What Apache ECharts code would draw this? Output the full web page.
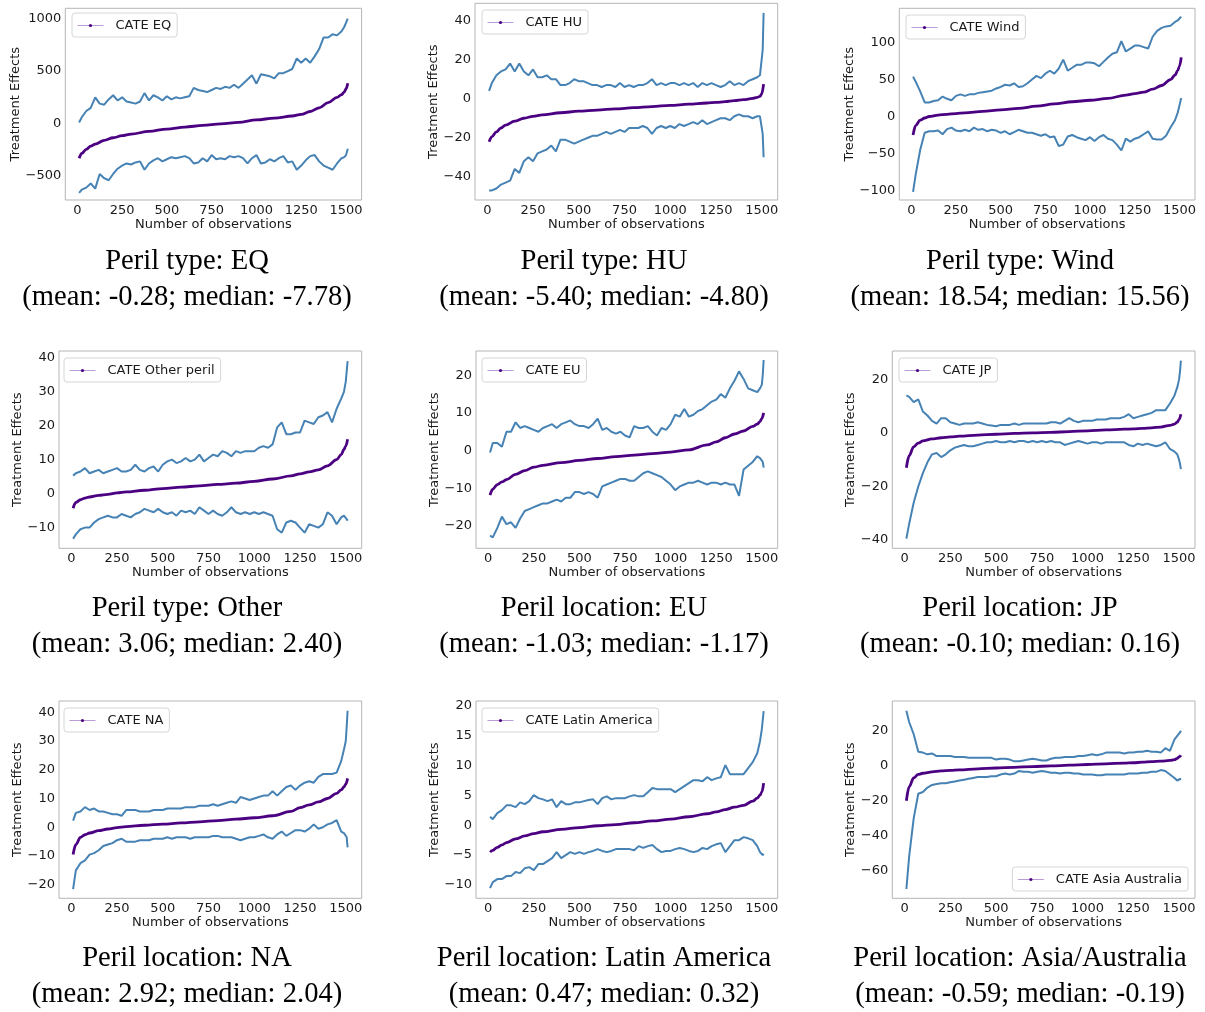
<!DOCTYPE html>
<html><head><meta charset="utf-8">
<script src="https://cdn.jsdelivr.net/npm/echarts@6/dist/echarts.min.js"></script>
<style>html,body{margin:0;padding:0;background:#fff}#chart{width:1205px;height:1012px}</style>
</head><body><div id="chart"></div>
<script>
// ---------- DATA ----------
const xBand = [10, 25, 50, 75, 100, 125, 150, 175, 200, 225,
  250, 275, 300, 325, 350, 375, 400, 425, 450, 475,
  500, 525, 550, 575, 600, 625, 650, 675, 700, 725,
  750, 775, 800, 825, 850, 875, 900, 925, 950, 975,
  1000, 1025, 1050, 1075, 1100, 1125, 1150, 1175, 1200, 1225,
  1250, 1275, 1300, 1325, 1350, 1375, 1400, 1425, 1450, 1475,
  1490, 1500, 1505, 1510];
const xCate = [10, 25, 50, 75, 100, 150, 200, 250, 300, 400, 500, 600, 700, 800, 900, 1000, 1100, 1200, 1250, 1300, 1350, 1400, 1450, 1475, 1490, 1500, 1510];
const xTicks = [0, 250, 500, 750, 1000, 1250, 1500];

const eqUpper = [10, 60, 120, 150, 250, 190, 180, 230, 270, 220,
  250, 210, 200, 190, 210, 290, 220, 270, 250, 220,
  260, 230, 250, 240, 250, 260, 340, 320, 310, 300,
  320, 340, 330, 350, 340, 370, 340, 380, 420, 460,
  380, 470, 460, 450, 430, 480, 480, 500, 520, 620,
  580, 620, 580, 640, 710, 820, 820, 850, 840, 880,
  920, 960, 980, 1000];
const eqLower = [-660, -630, -610, -570, -620, -480, -520, -540, -480, -430,
  -400, -380, -390, -370, -360, -440, -380, -350, -330, -360,
  -340, -320, -330, -320, -310, -330, -380, -370, -330, -360,
  -300, -340, -330, -340, -310, -320, -310, -330, -380, -330,
  -300, -380, -370, -340, -360, -330, -310, -370, -360, -440,
  -400, -350, -310, -300, -360, -400, -420, -440, -380, -330,
  -320, -300, -270, -240];
const eqCate = [-330, -285, -245, -215, -195, -160, -135, -115, -100, -75, -52, -33, -18, -3, 12, 35, 52, 72, 88, 115, 150, 200, 250, 275, 300, 330, 385];

const huUpper = [4, 8, 12, 14, 15, 18, 14, 18, 14, 12,
  15, 11, 11, 12, 10, 10, 7, 7, 8, 10,
  9, 9, 8, 7, 7, 6, 7, 7, 6, 8,
  6, 7, 6, 7, 7, 8, 10, 7, 8, 7,
  8, 8, 7, 8, 7, 8, 6, 8, 7, 8,
  7, 6, 7, 9, 7, 8, 7, 9, 10, 11,
  12, 13, 25, 44];
const huLower = [-47, -47, -46, -44, -43, -42, -36, -38, -32, -30,
  -32, -28, -27, -26, -24, -27, -21, -21, -22, -23,
  -22, -21, -20, -19, -19, -18, -17, -18, -17, -16,
  -17, -15, -15, -15, -14, -15, -18, -15, -14, -15,
  -14, -15, -13, -14, -13, -12, -13, -11, -13, -12,
  -11, -10, -10, -11, -9, -8, -9, -9, -10, -9,
  -9, -8, -18, -30];
const huCate = [-22, -19.5, -17, -15, -13.5, -11.5, -10, -9, -8.3, -7.2, -6.4, -5.8, -5.2, -4.6, -4.0, -3.4, -2.8, -2.2, -1.9, -1.5, -1.0, -0.5, 0.2, 0.7, 1.2, 2.5, 7.5];

const windUpper = [54, 47, 34, 19, 19, 21, 22, 27, 24, 22,
  28, 30, 28, 30, 30, 32, 33, 34, 35, 38,
  40, 43, 42, 45, 40, 41, 45, 50, 55, 52,
  58, 62, 58, 65, 77, 62, 66, 70, 70, 73,
  73, 72, 68, 74, 80, 85, 87, 102, 88, 92,
  96, 96, 94, 92, 108, 116, 120, 122, 123, 128,
  130, 132, 134, 135];
const windLower = [-102, -78, -45, -22, -20, -20, -19, -24, -17, -15,
  -19, -20, -18, -20, -15, -18, -17, -20, -18, -19,
  -22, -20, -24, -21, -18, -20, -22, -22, -24, -26,
  -24, -28, -27, -40, -38, -27, -25, -28, -30, -32,
  -28, -33, -28, -25, -30, -32, -38, -46, -30, -34,
  -30, -28, -24, -20, -30, -31, -31, -26, -15, -5,
  5, 15, 20, 25];
const windCate = [-25, -12, -5, -2, 0, 2, 3, 4, 5, 7, 9, 11, 14, 17, 20, 22, 24.5, 29, 31, 33, 37, 42, 50, 56, 62, 68, 80];

const otherUpper = [5.3, 6, 6.5, 7.5, 6, 6.5, 7, 6, 6.5, 7,
  7.5, 6.5, 6.5, 7, 8.5, 7, 6.5, 7.5, 8, 6.5,
  8.5, 9.5, 10, 9, 9.5, 10.5, 9.5, 10, 11.5, 9.5,
  10.5, 11.5, 11, 12.5, 12, 11, 12.5, 12, 12.5, 12.5,
  12.5, 13.5, 14, 13.5, 14.5, 19.5, 21, 17.5, 17.5, 18,
  18, 21.5, 21, 20.5, 22.5, 23, 24, 21, 25, 28,
  30, 33, 36, 39];
const otherLower = [-13.3, -12, -10.5, -10, -10, -8.5, -7.5, -7, -6.5, -7,
  -7, -6, -6.5, -7, -6, -5.5, -4.5, -5, -5.5, -4.5,
  -5.5, -6, -5.5, -6.5, -5, -5.5, -5, -6, -4, -5,
  -6, -5, -6, -6.5, -5.5, -4, -5.5, -6, -5.5, -6,
  -5.5, -6, -5.5, -6, -6.5, -10.5, -11.5, -8.5, -8, -8.5,
  -10, -11.5, -9, -9.5, -10, -9, -5.5, -6.5, -9, -7,
  -6.5, -7, -7.5, -8];
const otherCate = [-4.3, -2.6, -1.8, -1.3, -1.0, -0.5, -0.2, 0.2, 0.5, 1.0, 1.5, 1.9, 2.3, 2.7, 3.1, 3.6, 4.3, 5.2, 5.8, 6.4, 7.0, 8.2, 10, 11.5, 13, 14, 16];

const euUpper = [-0.5, 2, 2, 1, 5, 5, 7.5, 6, 6.5, 6,
  5.5, 5, 6, 6.5, 7, 6, 7, 7.5, 8, 7,
  6.5, 6.5, 6, 7, 8.5, 5.5, 6, 5, 4.5, 5,
  4, 3.5, 6.5, 6, 6, 6.5, 5, 4, 6, 5.5,
  7, 9.5, 9, 11, 9, 9.5, 10.5, 11, 12, 13,
  13.5, 15, 14, 16.5, 18.5, 21, 19, 16.5, 16, 15.5,
  16.5, 17.5, 20, 24];
const euLower = [-22.5, -23, -20.5, -17.5, -19.5, -19, -20.5, -18, -16, -15.5,
  -15, -14.5, -14, -14, -13.5, -13, -13.5, -12.5, -12.5, -11,
  -11, -11.5, -11, -11.5, -12.5, -9.5, -9, -8.5, -8, -7.5,
  -7.5, -8, -8, -7, -6, -5.5, -6, -6.5, -7, -8,
  -9, -10.5, -9.5, -9, -8.5, -8.5, -8, -8.5, -9, -8.5,
  -8.5, -9, -8.5, -9, -9, -12, -5, -4, -3, -1.5,
  -2, -2.5, -3, -4.5];
const euCate = [-11.8, -10.2, -9, -8.3, -7.7, -6.3, -5.3, -4.4, -3.9, -3.2, -2.6, -2.1, -1.6, -1.2, -0.8, -0.4, 0.2, 1.5, 2.3, 3.4, 4.4, 5.2, 6.4, 7, 7.7, 8.5, 10];

const jpUpper = [14, 13.5, 11.5, 12.5, 8, 6.5, 4.5, 3.5, 5.5, 5.5,
  4, 3.5, 3, 3.5, 3.5, 3.5, 4, 3.5, 3, 2.8,
  2.5, 3, 3, 3, 3.5, 3, 3.5, 3.5, 3.5, 3.5,
  3.5, 3.5, 4, 4, 3.5, 4.5, 5.5, 4.5, 4, 4.5,
  4.5, 4.5, 5, 5, 5, 5.5, 5.5, 5.5, 6, 7,
  5.5, 6, 6.5, 7, 7.5, 8.5, 8.5, 8.5, 11, 14,
  17, 20, 23, 27];
const jpLower = [-39.5, -34, -26, -20, -15, -11, -8, -7.5, -9, -8,
  -6.5, -5.5, -5, -4.5, -5, -5, -4.5, -4, -3.5, -3.5,
  -3, -3.5, -3.5, -3, -3.5, -3, -3, -3.5, -3, -3.5,
  -3, -3.5, -3, -3.5, -3.5, -4.5, -4, -3.5, -3, -3.5,
  -4, -3.5, -3.5, -4, -3.5, -3.5, -3.5, -3.5, -3.5, -4.5,
  -5, -4, -4.5, -4, -4.5, -5, -4.5, -3.5, -6, -7,
  -8, -10, -11.5, -13.5];
const jpCate = [-13, -8.5, -5.2, -3.8, -3, -2.2, -1.8, -1.5, -1.2, -0.8, -0.5, -0.2, 0, 0.2, 0.5, 0.8, 1.1, 1.4, 1.5, 1.7, 1.9, 2.2, 2.8, 3.3, 4, 5, 7];

const naUpper = [2.3, 5, 5.5, 7, 6, 6.5, 5.5, 5.5, 5, 4.5,
  4.5, 4, 6, 6, 6, 5.5, 5.5, 5.5, 6, 6,
  6, 6.5, 6.5, 6.5, 6.5, 7, 7, 7, 7.5, 7.5,
  7.5, 8, 7.5, 8, 8.5, 9, 8.5, 10.5, 10, 9.5,
  10, 10.5, 11, 11, 12.5, 11, 12.5, 14, 14.5, 13,
  14.5, 15.5, 16, 15.5, 17.5, 18.5, 18.5, 18.5, 19, 23,
  27, 30, 35, 40.5];
const naLower = [-21.5, -15, -12.5, -11.5, -9.5, -9, -8, -6.5, -6, -5.5,
  -4.5, -4, -5, -5, -5, -4.5, -4.5, -4.5, -4, -4,
  -4, -3.5, -4, -3.5, -3.5, -3.5, -4, -3.5, -3.5, -3.5,
  -3.5, -3, -3, -3.5, -3.5, -3.5, -4, -4.5, -4, -3.5,
  -3.5, -3, -2.5, -3.5, -4, -2.5, -1.5, -3, -2, -1,
  -1, -1.5, -0.5, 1, -0.5, 0, 1, 1.5, 2.5, -1.5,
  -2, -2.5, -3.5, -7];
const naCate = [-9.5, -6, -3.5, -2.6, -2, -1.2, -0.6, -0.1, 0.2, 0.7, 1.1, 1.5, 1.9, 2.3, 2.8, 3.3, 4.0, 5.5, 6.8, 7.8, 8.8, 10, 11.8, 13, 14, 15, 17];

const laUpper = [1.4, 1, 2, 2.5, 3.3, 3.3, 3, 3.8, 3.5, 4,
  5, 4.5, 4.3, 4, 4.3, 3, 4, 3.5, 3.5, 3.8,
  3.8, 4, 4.2, 4.3, 3.5, 4.5, 4.8, 4.3, 4.5, 4.5,
  4.5, 4.8, 5, 4.8, 4.8, 5.5, 6.2, 6, 6, 6,
  6, 5.5, 6, 6.5, 7, 7.5, 7.5, 7.3, 8, 7.5,
  7.8, 8, 10, 8.5, 8.5, 8.5, 8.5, 9.5, 10.5, 12,
  14, 16, 17.5, 19];
const laLower = [-10.5, -9.5, -9, -9, -8.5, -8.5, -7.8, -8, -7.2, -7,
  -7.5, -6.5, -6.5, -6, -5.5, -4.5, -5.5, -5, -4.5, -4.8,
  -4.5, -4.8, -4.5, -4.3, -4, -4.3, -4.5, -4.3, -4, -4,
  -4, -4, -4.2, -3.5, -3.8, -3.5, -3.3, -4, -4.5, -4.3,
  -4.3, -4, -3.8, -4, -4.3, -4.5, -4.3, -3.8, -4, -3.5,
  -3.2, -3, -4.5, -3.5, -2.5, -2.5, -2, -2.2, -2.5, -3.5,
  -4.5, -4.8, -5, -4.8];
const laCate = [-4.5, -4.2, -3.7, -3.3, -2.9, -2.3, -1.8, -1.4, -1.1, -0.7, -0.4, -0.1, 0.1, 0.4, 0.7, 1.0, 1.4, 1.9, 2.2, 2.6, 3.0, 3.3, 4.0, 4.5, 5, 5.5, 7];

const aaUpper = [31.4, 25, 18, 8, 7.5, 6.5, 7, 5.5, 5.5, 5.5,
  5.5, 5, 5, 5, 4.5, 4.5, 4.5, 4.5, 4.5, 4.5,
  3.5, 4, 4, 3.5, 2.5, 2.5, 3, 3.5, 4, 3.5,
  3, 3, 4, 4.5, 4.5, 5, 5, 5, 5.5, 5.5,
  6, 6.5, 6, 6.5, 7.5, 7.5, 7.5, 7.5, 7, 7.5,
  7.5, 8, 8, 8.5, 8, 8, 7.5, 10, 8.5, 15,
  17, 18, 19, 20];
const aaLower = [-70.5, -52, -30, -16, -15, -12.5, -11, -10.5, -10, -10,
  -9.5, -9, -8.5, -8, -7.5, -7, -6.5, -6.5, -6.5, -6,
  -6, -5, -4.5, -5, -4.5, -3, -3.5, -3.5, -4, -3.5,
  -3, -3.5, -4, -4, -4.5, -4, -4, -4.5, -4.5, -5,
  -5, -5, -5.5, -5.5, -5, -5, -5, -5, -5, -4.5,
  -4.5, -4.5, -4, -4, -3.5, -3.5, -2.5, -3, -5, -7,
  -8.5, -8, -7.5, -8];
const aaCate = [-20, -12, -7, -5, -4.3, -3.5, -3, -2.7, -2.4, -1.8, -1.3, -0.9, -0.5, -0.1, 0.3, 0.7, 1.1, 1.5, 1.7, 2, 2.3, 2.6, 3, 3.5, 4.2, 5, 6];

const legendNames = ['CATE EQ', 'CATE HU', 'CATE Wind', 'CATE Other peril', 'CATE EU', 'CATE JP', 'CATE NA', 'CATE Latin America', 'CATE Asia Australia'];
const titleLine1 = ['Peril type: EQ', 'Peril type: HU', 'Peril type: Wind', 'Peril type: Other', 'Peril location: EU', 'Peril location: JP', 'Peril location: NA', 'Peril location: Latin America', 'Peril location: Asia/Australia'];
const titleLine2 = ['(mean: -0.28; median: -7.78)', '(mean: -5.40; median: -4.80)', '(mean: 18.54; median: 15.56)', '(mean: 3.06; median: 2.40)', '(mean: -1.03; median: -1.17)', '(mean: -0.10; median: 0.16)', '(mean: 2.92; median: 2.04)', '(mean: 0.47; median: 0.32)', '(mean: -0.59; median: -0.19)'];
const yTicks = [
  [-500, 0, 500, 1000], [-40, -20, 0, 20, 40], [-100, -50, 0, 50, 100],
  [-10, 0, 10, 20, 30, 40], [-20, -10, 0, 10, 20], [-40, -20, 0, 20],
  [-20, -10, 0, 10, 20, 30, 40], [-10, -5, 0, 5, 10, 15, 20], [-60, -40, -20, 0, 20]
];
const uppers = [eqUpper, huUpper, windUpper, otherUpper, euUpper, jpUpper, naUpper, laUpper, aaUpper];
const lowers = [eqLower, huLower, windLower, otherLower, euLower, jpLower, naLower, laLower, aaLower];
const cates = [eqCate, huCate, windCate, otherCate, euCate, jpCate, naCate, laCate, aaCate];

// ---------- LAYOUT ----------
const grids = [
  {left: 65.3, top: 8.3, width: 296.3, height: 191.7},
  {left: 475, top: 3.3, width: 302.7, height: 196.7},
  {left: 899.3, top: 8.3, width: 295.7, height: 191.7},
  {left: 59, top: 351, width: 302.7, height: 197.3},
  {left: 476, top: 351, width: 301.7, height: 197.3},
  {left: 892.3, top: 351, width: 302.7, height: 197.3},
  {left: 59, top: 701, width: 302.7, height: 197.3},
  {left: 476, top: 701, width: 301.7, height: 197.3},
  {left: 892.3, top: 701, width: 302.7, height: 197.3}
];
const yRange = [[-728, 1098], [-51.9, 48.9], [-113, 146.5], [-16.1, 42], [-25.9, 26.4], [-43.1, 30.6], [-24.7, 43.9], [-12.2, 20.7], [-75.8, 37]];
const yNameGap = [39, 33, 38, 33, 34, 31, 33, 34, 31];
const legendPos = [
  {left: 72, top: 13}, {left: 482, top: 10}, {left: 906, top: 15},
  {left: 64, top: 358}, {left: 482, top: 358}, {left: 899, top: 358},
  {left: 64, top: 708}, {left: 482, top: 708}, {right: 17, top: 867}
];
const titlePos = [
  {x: 187, y: 243}, {x: 604, y: 243}, {x: 1020, y: 243},
  {x: 187, y: 590}, {x: 604, y: 590}, {x: 1020, y: 590},
  {x: 187, y: 940}, {x: 604, y: 940}, {x: 1020, y: 940}
];

const SANS = 'DejaVu Sans';
const TXT = '#1a1a1a';
const fmt = v => (v < 0 ? '\u2212' + Math.abs(v) : String(v));
const zip = (xs, ys) => xs.map((x, i) => [x, ys[i]]);

const option = {
  animation: false,
  backgroundColor: '#ffffff',
  title: [], legend: [], grid: [], xAxis: [], yAxis: [], series: []
};

for (let i = 0; i < 9; i++) {
  option.grid.push(Object.assign({show: true, borderColor: '#b5b5b5', borderWidth: 1, backgroundColor: 'transparent', containLabel: false}, grids[i]));
  option.xAxis.push({
    type: 'value', gridIndex: i, min: -67, max: 1587,
    axisLine: {show: false}, axisTick: {show: false}, splitLine: {show: false},
    axisLabel: {customValues: xTicks, margin: 4, fontSize: 13, fontFamily: SANS, color: TXT, formatter: fmt},
    name: 'Number of observations', nameLocation: 'middle', nameGap: 18,
    nameTextStyle: {fontSize: 13, fontFamily: SANS, color: TXT}
  });
  option.yAxis.push({
    type: 'value', gridIndex: i, min: yRange[i][0], max: yRange[i][1],
    axisLine: {show: false}, axisTick: {show: false}, splitLine: {show: false},
    axisLabel: {customValues: yTicks[i], margin: 4, fontSize: 13, fontFamily: SANS, color: TXT, formatter: fmt},
    name: 'Treatment Effects', nameLocation: 'middle', nameGap: yNameGap[i],
    nameTextStyle: {fontSize: 13, fontFamily: SANS, color: TXT}
  });
  const band = {type: 'line', xAxisIndex: i, yAxisIndex: i, symbol: 'none', silent: true,
    lineStyle: {color: '#4682b4', width: 2}, itemStyle: {color: '#4682b4'}, z: 2};
  option.series.push(Object.assign({name: legendNames[i] + ' upper', data: zip(xBand, uppers[i])}, band));
  option.series.push(Object.assign({name: legendNames[i] + ' lower', data: zip(xBand, lowers[i])}, band));
  option.series.push({
    type: 'line', name: legendNames[i], xAxisIndex: i, yAxisIndex: i,
    data: zip(xCate, cates[i]), smooth: 0.35, smoothMonotone: 'x',
    symbol: 'circle', showSymbol: false, symbolSize: 3, silent: true,
    lineStyle: {color: '#4b0082', width: 2.8}, itemStyle: {color: '#4b0082'}, z: 3
  });
  option.legend.push(Object.assign({
    orient: 'horizontal', selectedMode: false,
    padding: [6, 6, 5, 5], itemWidth: 26, itemHeight: 4,
    backgroundColor: 'rgba(255,255,255,0.85)', borderColor: '#d6d6d6', borderWidth: 1, borderRadius: 3,
    textStyle: {fontSize: 13, fontFamily: SANS, color: TXT, padding: [0, 0, 0, 7]},
    data: [{name: legendNames[i], lineStyle: {color: '#bb9bd8', width: 1}, itemStyle: {color: '#4b0082'}}]
  }, legendPos[i]));
  option.title.push({
    text: titleLine1[i] + '\n' + titleLine2[i],
    left: titlePos[i].x, top: titlePos[i].y, textAlign: 'center', padding: 0,
    textStyle: {fontFamily: 'Liberation Serif', fontSize: 28.6, fontWeight: 'normal', color: '#000', lineHeight: 36}
  });
}

const chart = echarts.init(document.getElementById('chart'), null, {renderer: 'canvas'});
chart.setOption(option);
</script>
</body></html>
